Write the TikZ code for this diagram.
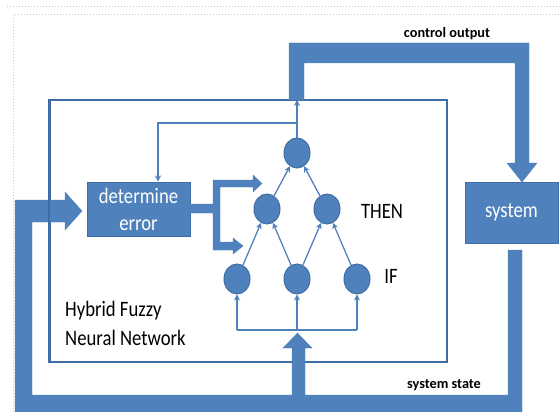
\documentclass[tikz,border=0pt]{standalone}
\usepackage{fontspec}
\setmainfont{Carlito}
\newfontfamily\labfont[FakeStretch=0.85]{Carlito}
\usetikzlibrary{shapes.geometric,arrows.meta}
\definecolor{ofblue}{HTML}{4F81BD}
\definecolor{ofdark}{HTML}{3F6DA3}
\definecolor{dotgray}{HTML}{C8C8C8}
\tikzset{
  bigtext/.style={font=\labfont\fontsize{22}{29}\selectfont},
  smalltext/.style={font=\bfseries\fontsize{14.3}{16}\selectfont},
  neuron/.style={ellipse, fill=ofblue, draw=ofdark, line width=1pt, minimum width=26pt, minimum height=30pt, inner sep=0pt},
  bluebox/.style={rectangle, fill=ofblue, draw=ofdark, line width=1pt, text=white, inner sep=0pt, align=center},
  conn/.style={draw=ofblue, line width=1.3pt, -{Stealth[length=6pt,width=6pt]}},
  plainconn/.style={draw=ofblue, line width=1.3pt},
  thick arrow/.style={fill=ofblue, draw=ofblue, line width=0.4pt},
}
\begin{document}
\begin{tikzpicture}[x=1pt,y=-1pt]
\useasboundingbox (0,0) rectangle (560,412);
% dotted frame
\draw[dotgray, dotted, line width=1pt] (7,7) -- (560,7);
\draw[dotgray, dotted, line width=1pt] (13,412) -- (13,15) -- (560,15);
% main box
\node[draw=ofdark, line width=1.6pt, minimum width=397pt, minimum height=262pt, inner sep=0pt] (hfnn) at (248.5,231) {};
% determine error box
\node[bluebox, minimum width=103pt, minimum height=54pt, bigtext] (de) at (138.5,209) {determine\\[-2pt]error};
% system box
\node[bluebox, minimum width=93pt, minimum height=61pt, bigtext] (sys) at (511.5,212.5) {system};
% neurons
\node[neuron] (n1) at (297,153) {};
\node[neuron] (m1) at (267,209) {};
\node[neuron] (m2) at (327,209) {};
\node[neuron] (b1) at (237,279) {};
\node[neuron] (b2) at (297,279) {};
\node[neuron] (b3) at (357,279) {};
% labels
\node[bigtext, anchor=center] (then) at (382,211) {THEN};
\node[bigtext, anchor=center] (if) at (391,276) {IF};
\node[bigtext, anchor=west, align=left, inner sep=0pt] (hl) at (65,323.5) {Hybrid Fuzzy\\Neural Network};
\node[smalltext] (co) at (447,34) {control output};
\node[smalltext] (ss) at (444,385) {system state};
% thick arrows
\draw[thick arrow] (289,100) -- (289,43) -- (529,43) -- (529,163) -- (537,163) -- (522,182)
  -- (507,163) -- (515,163) -- (515,63) -- (304,63) -- (304,100) -- cycle;
\draw[thick arrow] (508,250) -- (522,250) -- (522,413) -- (15,413) -- (15,200) -- (65,200) -- (65,192)
  -- (82,211) -- (65,230) -- (65,222) -- (32,222) -- (32,395) -- (292,395) -- (292,348) -- (283,348)
  -- (297.5,333) -- (312,348) -- (305,348) -- (305,395) -- (508,395) -- cycle;
\draw[thick arrow] (190,204) -- (213,204) -- (213,180) -- (253,180) -- (253,175) -- (262,183.5)
  -- (253,192) -- (253,187) -- (220,187) -- (220,242) -- (233,242) -- (233,238) -- (243,246)
  -- (233,254) -- (233,250) -- (213,250) -- (213,213) -- (190,213) -- cycle;
% main box left edge over the thick arrow
\draw[draw=ofdark, line width=1.6pt] (hfnn.north west) -- (hfnn.south west);
% network connectors
\coordinate (top) at (297,100);
\coordinate (fb) at (297,123);
\coordinate (fbl) at (158,123);
\coordinate (inp) at (297,330);
\draw[conn] (n1) -- (top);
\draw[conn] (fb) -- (fbl) -- (fbl |- de.north);
\draw[conn] (m1) -- (n1);
\draw[conn] (m2) -- (n1);
\draw[conn] (b1) -- (m1);
\draw[conn] (b2) -- (m1);
\draw[conn] (b2) -- (m2);
\draw[conn] (b3) -- (m2);
\draw[plainconn] (b1 |- inp) -- (b3 |- inp);
\draw[conn] (b1 |- inp) -- (b1);
\draw[conn] (inp) -- (b2);
\draw[conn] (b3 |- inp) -- (b3);
\end{tikzpicture}
\end{document}
